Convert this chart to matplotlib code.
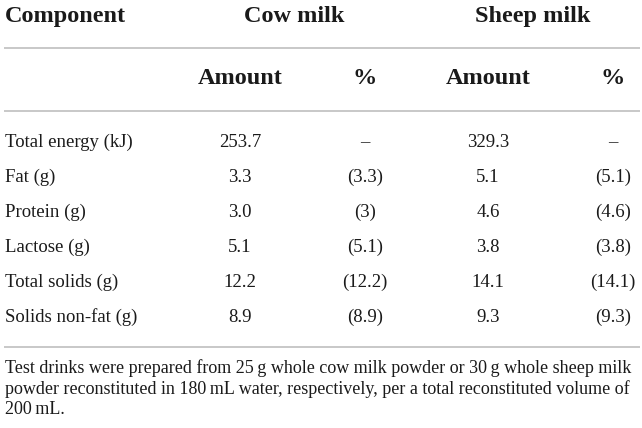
import matplotlib
matplotlib.use("Agg")
import matplotlib.pyplot as plt

components = ["Total energy (kJ)", "Fat (g)", "Protein (g)", "Lactose (g)",
              "Total solids (g)", "Solids non-fat (g)"]
cow_amount = ["253.7", "3.3", "3.0", "5.1", "12.2", "8.9"]
cow_pct = ["–", "(3.3)", "(3)", "(5.1)", "(12.2)", "(8.9)"]
sheep_amount = ["329.3", "5.1", "4.6", "3.8", "14.1", "9.3"]
sheep_pct = ["–", "(5.1)", "(4.6)", "(3.8)", "(14.1)", "(9.3)"]
group_headers = ["Component", "Cow milk", "Sheep milk"]
sub_headers = ["Amount", "%", "Amount", "%"]
footnote = ["Test drinks were prepared from 25\u2009g whole cow milk powder or 30\u2009g whole sheep milk",
            "powder reconstituted in 180\u2009mL water, respectively, per a total reconstituted volume of",
            "200\u2009mL."]

plt.rcParams['font.family'] = ['Liberation Serif', 'DejaVu Serif']

W, H = 642, 428
fig = plt.figure(figsize=(W / 100, H / 100), dpi=100)
ax = fig.add_axes([0, 0, 1, 1])
ax.set_xlim(0, W)
ax.set_ylim(H, 0)
ax.axis("off")

line_color = "#c8c8c8"
for y in [48, 111, 347]:
    ax.plot([4, 640], [y, y], color=line_color, lw=1.4, solid_capstyle="butt")

hdr_fs = 17.5
body_fs = 13.5
txt_color = "#1a1a1a"

# group headers
ax.text(5, 22, group_headers[0], ha="left", va="baseline", fontsize=hdr_fs,
        fontweight="bold", color=txt_color)
ax.text(294, 22, group_headers[1], ha="center", va="baseline", fontsize=hdr_fs,
        fontweight="bold", color=txt_color)
ax.text(533, 22, group_headers[2], ha="center", va="baseline", fontsize=hdr_fs,
        fontweight="bold", color=txt_color)

col_x = [240, 365, 488, 613]
for x, s in zip(col_x, sub_headers):
    ax.text(x, 84, s, ha="center", va="baseline", fontsize=hdr_fs,
            fontweight="bold", color=txt_color)

row_y0, row_dy = 147, 35
for i, name in enumerate(components):
    y = row_y0 + i * row_dy
    ax.text(5, y, name, ha="left", va="baseline", fontsize=body_fs, color=txt_color)
    for x, col in zip(col_x, [cow_amount, cow_pct, sheep_amount, sheep_pct]):
        ax.text(x, y, col[i], ha="center", va="baseline", fontsize=body_fs, color=txt_color)

for j, ln in enumerate(footnote):
    ax.text(5, 373 + j * 20.5, ln, ha="left", va="baseline", fontsize=13, color=txt_color)

fig.savefig("out.png", dpi=100, facecolor="white")
